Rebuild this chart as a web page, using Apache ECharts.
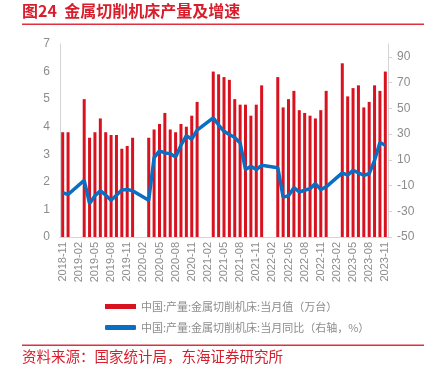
<!DOCTYPE html>
<html lang="zh-CN">
<head>
    <meta charset="UTF-8">
    <title>金属切削机床产量及增速</title>
    <script src="https://cdn.jsdelivr.net/npm/echarts@6/dist/echarts.min.js"></script>
    <style>
        html, body { margin: 0; padding: 0; background: #fff; }
        #chart { width: 443px; height: 376px; }
    </style>
</head>
<body>
    <div id="chart"></div>
    <script>
        var months = [
            '2018-11', '2018-12',
            '2019-01', '2019-02', '2019-03', '2019-04', '2019-05', '2019-06', '2019-07', '2019-08', '2019-09', '2019-10', '2019-11', '2019-12',
            '2020-01', '2020-02', '2020-03', '2020-04', '2020-05', '2020-06', '2020-07', '2020-08', '2020-09', '2020-10', '2020-11', '2020-12',
            '2021-01', '2021-02', '2021-03', '2021-04', '2021-05', '2021-06', '2021-07', '2021-08', '2021-09', '2021-10', '2021-11', '2021-12',
            '2022-01', '2022-02', '2022-03', '2022-04', '2022-05', '2022-06', '2022-07', '2022-08', '2022-09', '2022-10', '2022-11', '2022-12',
            '2023-01', '2023-02', '2023-03', '2023-04', '2023-05', '2023-06', '2023-07', '2023-08', '2023-09', '2023-10', '2023-11'
        ];

        // 当月值（万台）
        var output = [
            3.8, 3.8,
            null, null, 5.0, 3.6, 3.8, 4.3, 3.8, 3.7, 3.7, 3.2, 3.3, 3.6,
            null, null, 3.6, 3.9, 4.1, 4.5, 3.9, 3.8, 4.1, 4.0, 4.4, 4.9,
            null, null, 6.0, 5.9, 5.8, 5.7, 5.0, 4.8, 4.8, 4.4, 4.8, 5.5,
            null, null, 5.8, 4.7, 5.0, 5.3, 4.6, 4.5, 4.4, 4.3, 4.6, 5.3,
            null, null, 6.3, 5.1, 5.4, 5.5, 4.7, 4.9, 5.5, 5.3, 6.0
        ];

        // 当月同比（%）
        var yoy = [
            -15.5, -17,
            null, null, -6, -24, -18, -14, -17.5, -21.5, -17.5, -13.5, -13, -14,
            null, null, -21.5, 11.7, 17, 15.3, 14.8, 12.2, 21.3, 28.8, 26, 33,
            null, null, 42.6, 37, 32.2, 29.6, 27.3, 23.1, 2.4, 5, 2.4, 5.7,
            null, null, 3.9, -19, -18, -11.6, -15, -13.7, -12.4, -8.5, -13.2, -11,
            null, null, -0.2, -2, 1.9, -0.2, -2, -0.8, 9.6, 23.4, 21.3
        ];

        var barName = '中国:产量:金属切削机床:当月值（万台）';
        var lineName = '中国:产量:金属切削机床:当月同比（右轴，%）';

        var red = '#d9121f';
        var blue = '#0a6fc2';
        var axisGrey = '#d4d4d4';
        var labelGrey = '#8c8c8c';

        var myChart = echarts.init(document.getElementById('chart'));

        myChart.setOption({
            animation: false,
            textStyle: { fontFamily: 'Liberation Sans, Noto Sans CJK SC, sans-serif' },
            graphic: [
                {
                    type: 'text', left: 22, top: 3,
                    style: { text: '图24  金属切削机床产量及增速', fill: '#d81e2c', font: 'bold 16px "Noto Sans CJK SC"' }
                },
                {
                    type: 'rect', shape: { x: 22, y: 23.5, width: 402, height: 1.5 },
                    style: { fill: '#e03040' }
                },
                {
                    type: 'rect', shape: { x: 22, y: 344.5, width: 402, height: 1.5 },
                    style: { fill: '#e03040' }
                },
                {
                    type: 'text', left: 22, top: 349,
                    style: { text: '资料来源：国家统计局，东海证券研究所', fill: '#d81e2c', font: '14.5px "Noto Sans CJK SC"' }
                }
            ],
            legend: {
                orient: 'vertical',
                left: 100,
                top: 296,
                itemGap: 10,
                itemWidth: 31,
                itemHeight: 5,
                textStyle: { color: labelGrey, fontSize: 11, fontFamily: 'Noto Sans CJK SC' },
                data: [
                    { name: barName, icon: 'rect' },
                    { name: lineName, icon: 'roundRect' }
                ]
            },
            grid: { left: 60, right: 55, top: 44, bottom: 139 },
            xAxis: {
                type: 'category',
                data: months,
                boundaryGap: true,
                axisLine: { lineStyle: { color: axisGrey } },
                axisTick: { show: false },
                axisLabel: { rotate: 90, interval: 2, color: labelGrey, fontSize: 11, margin: 5 }
            },
            yAxis: [
                {
                    type: 'value', min: 0, max: 7, interval: 1,
                    splitLine: { show: false },
                    axisLine: { show: true, lineStyle: { color: axisGrey } },
                    axisTick: { show: false },
                    axisLabel: { color: labelGrey, fontSize: 12, margin: 10 }
                },
                {
                    type: 'value', min: -50, max: 100, interval: 20,
                    position: 'right',
                    splitLine: { show: false },
                    axisLine: { show: true, lineStyle: { color: axisGrey } },
                    axisTick: { show: true, length: 4, inside: false, lineStyle: { color: axisGrey } },
                    axisLabel: { color: labelGrey, fontSize: 12, margin: 9, showMaxLabel: false }
                }
            ],
            series: [
                {
                    name: barName,
                    type: 'bar',
                    yAxisIndex: 0,
                    barWidth: 3,
                    itemStyle: { color: red },
                    data: output
                },
                {
                    name: lineName,
                    type: 'line',
                    yAxisIndex: 1,
                    connectNulls: true,
                    symbol: 'none',
                    lineStyle: { color: blue, width: 3.5 },
                    itemStyle: { color: blue },
                    data: yoy
                }
            ]
        });
    </script>
</body>
</html>
